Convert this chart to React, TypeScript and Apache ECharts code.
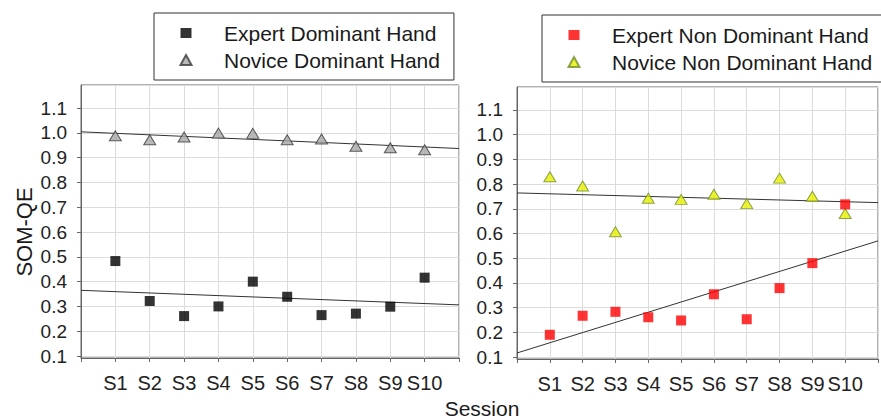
import React, { useEffect, useRef } from "react";
import * as echarts from "echarts";

const sessions = ["S1", "S2", "S3", "S4", "S5", "S6", "S7", "S8", "S9", "S10"];
const expertDominant = [0.483, 0.322, 0.261, 0.3, 0.4, 0.339, 0.265, 0.271, 0.299, 0.416];
const noviceDominant = [0.988, 0.972, 0.983, 0.999, 0.998, 0.972, 0.975, 0.946, 0.94, 0.932];
const expertNonDominant = [0.19, 0.267, 0.283, 0.261, 0.248, 0.354, 0.253, 0.379, 0.48, 0.718];
const noviceNonDominant = [0.83, 0.792, 0.607, 0.743, 0.738, 0.759, 0.721, 0.824, 0.751, 0.681];

const FONT = "'Liberation Sans', Arial, sans-serif";
const Y_MIN = 0.092;
const Y_MAX = 1.193;
const X_MAX = 11;

function points(ys: number[]) {
  return ys.map((v, i) => [i + 1, v]);
}

function trend(ys: number[]) {
  const n = ys.length;
  const xs = ys.map((_, i) => i + 1);
  const mx = xs.reduce((a, b) => a + b, 0) / n;
  const my = ys.reduce((a, b) => a + b, 0) / n;
  let sxy = 0;
  let sxx = 0;
  for (let i = 0; i < n; i++) {
    sxy += (xs[i] - mx) * (ys[i] - my);
    sxx += (xs[i] - mx) * (xs[i] - mx);
  }
  const b = sxy / sxx;
  const a = my - b * mx;
  return [
    [0, a],
    [X_MAX, a + b * X_MAX],
  ];
}

function xAxis(gridIndex: number) {
  return {
    type: "value",
    gridIndex,
    min: 0,
    max: X_MAX,
    interval: 1,
    axisLine: { show: true, lineStyle: { color: "#666", width: 1 } },
    axisTick: { show: true, length: 4, lineStyle: { color: "#666" } },
    axisLabel: {
      margin: 15,
      fontSize: 20,
      fontFamily: FONT,
      color: "#222",
      formatter: (v: number) => sessions[v - 1] ?? "",
    },
    splitLine: { show: true, lineStyle: { color: "#dcdcdc", width: 1 } },
  };
}

function yAxis(gridIndex: number) {
  return {
    type: "value",
    gridIndex,
    min: Y_MIN,
    max: Y_MAX,
    splitNumber: 11,
    minInterval: 0.1,
    maxInterval: 0.1,
    axisLine: { show: true, lineStyle: { color: "#666", width: 1 } },
    axisTick: { show: true, length: 4, lineStyle: { color: "#666" } },
    axisLabel: {
      margin: 14,
      fontSize: 19,
      fontFamily: FONT,
      color: "#222",
      showMinLabel: false,
      showMaxLabel: false,
      formatter: (v: number) =>
        Math.abs(v * 10 - Math.round(v * 10)) < 1e-6 ? v.toFixed(1) : "",
    },
    splitLine: { show: true, lineStyle: { color: "#dcdcdc", width: 1 } },
  };
}

function trendSeries(name: string, ys: number[], idx: number) {
  return {
    name,
    type: "line",
    xAxisIndex: idx,
    yAxisIndex: idx,
    data: trend(ys),
    symbol: "none",
    lineStyle: { color: "#333", width: 1 },
    z: 1,
    silent: true,
  };
}

function legend(left: number, top: number, names: string[]) {
  return {
    show: true,
    orient: "vertical",
    left,
    top,
    data: names,
    itemWidth: 11,
    itemHeight: 10,
    itemGap: 3,
    padding: [8, 14, 8, 25.5],
    borderColor: "#333",
    borderWidth: 1,
    backgroundColor: "#fff",
    selectedMode: false,
    textStyle: {
      fontSize: 21,
      fontFamily: FONT,
      color: "#1a1a1a",
      lineHeight: 24,
      padding: [0, 0, 0, 27.5],
    },
  };
}

export default function App() {
  const ref = useRef<HTMLDivElement>(null);

  useEffect(() => {
    if (!ref.current) return;
    const chart = echarts.init(ref.current, null, { renderer: "svg" });
    chart.setOption({
      animation: false,
      backgroundColor: "#fff",
      textStyle: { fontFamily: FONT },
      grid: [
        { left: 81, top: 85, width: 378, height: 273, show: true, borderColor: "#666", borderWidth: 1, backgroundColor: "transparent" },
        { left: 517, top: 87, width: 378, height: 272, show: true, borderColor: "#666", borderWidth: 1, backgroundColor: "transparent" },
      ],
      xAxis: [xAxis(0), xAxis(1)],
      yAxis: [yAxis(0), yAxis(1)],
      legend: [
        legend(154, 13, ["Expert Dominant Hand", "Novice Dominant Hand"]),
        legend(542, 15, ["Expert Non Dominant Hand", "Novice Non Dominant Hand"]),
      ],
      series: [
        trendSeries("Expert Dominant trend", expertDominant, 0),
        trendSeries("Novice Dominant trend", noviceDominant, 0),
        trendSeries("Expert Non Dominant trend", expertNonDominant, 1),
        trendSeries("Novice Non Dominant trend", noviceNonDominant, 1),
        {
          name: "Novice Dominant Hand",
          type: "scatter",
          xAxisIndex: 0,
          yAxisIndex: 0,
          data: points(noviceDominant),
          symbol: "triangle",
          symbolSize: [12, 10],
          itemStyle: { color: "#a8a8a8", borderColor: "#3a3a3a", borderWidth: 1 },
          z: 3,
        },
        {
          name: "Expert Dominant Hand",
          type: "scatter",
          xAxisIndex: 0,
          yAxisIndex: 0,
          data: points(expertDominant),
          symbol: "rect",
          symbolSize: 10,
          itemStyle: { color: "#000" },
          z: 3,
        },
        {
          name: "Novice Non Dominant Hand",
          type: "scatter",
          xAxisIndex: 1,
          yAxisIndex: 1,
          data: points(noviceNonDominant),
          symbol: "triangle",
          symbolSize: [12, 10],
          itemStyle: { color: "#e8f000", borderColor: "#6f8f2a", borderWidth: 1 },
          z: 3,
        },
        {
          name: "Expert Non Dominant Hand",
          type: "scatter",
          xAxisIndex: 1,
          yAxisIndex: 1,
          data: points(expertNonDominant),
          symbol: "rect",
          symbolSize: 10,
          itemStyle: { color: "#ff0000" },
          z: 4,
        },
      ],
      graphic: [
        {
          type: "text",
          x: 24,
          y: 232,
          rotation: Math.PI / 2,
          style: {
            text: "SOM-QE",
            fontSize: 22,
            fontFamily: FONT,
            fill: "#1a1a1a",
            align: "center",
            verticalAlign: "middle",
          },
        },
        {
          type: "text",
          x: 482,
          y: 419,
          style: {
            text: "Session",
            fontSize: 21,
            fontFamily: FONT,
            fill: "#1a1a1a",
            align: "center",
            verticalAlign: "bottom",
          },
        },
      ],
    });
    return () => chart.dispose();
  }, []);

  return (
    <div
      ref={ref}
      style={{ position: "fixed", left: 0, top: 0, width: 881, height: 419 }}
    />
  );
}
